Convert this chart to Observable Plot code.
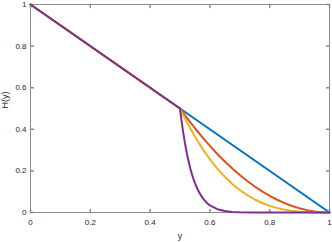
<!DOCTYPE html>
<html>
<head>
<meta charset="utf-8">
<script src="https://cdn.jsdelivr.net/npm/d3@7"></script>
<script src="https://cdn.jsdelivr.net/npm/@observablehq/plot@0.6"></script>
<style>
  html, body { margin: 0; padding: 0; background: #fff; }
  #chart svg { display: block; }
</style>
</head>
<body>
<div id="chart"></div>
<script>
// Tick values
const xTicks = [0, 0.2, 0.4, 0.6, 0.8, 1];
const yTicks = [0, 0.2, 0.4, 0.6, 0.8, 1];
const xTickLabels = ["0", "0.2", "0.4", "0.6", "0.8", "1"];
const yTickLabels = ["0", "0.2", "0.4", "0.6", "0.8", "1"];

// Series
const blueX = [0, 0.5, 1];
const blueY = [1, 0.5, 0];

const redX = [0, 0.5, 0.525, 0.55, 0.575, 0.6, 0.625, 0.65, 0.675, 0.7, 0.725, 0.75, 0.775, 0.8, 0.825, 0.85, 0.875, 0.9, 0.925, 0.95, 0.975, 1];
const redY = [1, 0.5, 0.4513, 0.405, 0.3613, 0.32, 0.2813, 0.245, 0.2113, 0.18, 0.1513, 0.125, 0.1013, 0.08, 0.0613, 0.045, 0.0313, 0.02, 0.0113, 0.005, 0.0013, 0];

const yellowX = [0, 0.5, 0.525, 0.55, 0.575, 0.6, 0.625, 0.65, 0.675, 0.7, 0.725, 0.75, 0.775, 0.8, 0.825, 0.85, 0.875, 0.9, 0.925, 0.95, 0.975, 1];
const yellowY = [1, 0.5, 0.4287, 0.3645, 0.3071, 0.256, 0.2109, 0.1715, 0.1373, 0.108, 0.0832, 0.0625, 0.0456, 0.032, 0.0214, 0.0135, 0.0078, 0.004, 0.0017, 0.0005, 0.0001, 0];

const purpleX = [0, 0.5, 0.505, 0.51, 0.515, 0.52, 0.525, 0.53, 0.535, 0.54, 0.545, 0.55, 0.56, 0.57, 0.58, 0.59, 0.6, 0.625, 0.65, 0.675, 0.7, 0.75, 0.8, 0.9, 1];
const purpleY = [1, 0.5, 0.443, 0.392, 0.347, 0.306, 0.270, 0.238, 0.209, 0.184, 0.161, 0.141, 0.108, 0.082, 0.062, 0.046, 0.034, 0.016, 0.007, 0.0028, 0.0011, 0.0001, 0, 0, 0];

const seriesNames = ["blue", "red", "yellow", "purple"];
const seriesColors = ["#0072BD", "#D95319", "#EDB120", "#7E2F8E"];

const toRows = (xs, ys) => xs.map((x, i) => ({x, y: ys[i]}));
const series = [
  toRows(blueX, blueY),
  toRows(redX, redY),
  toRows(yellowX, yellowY),
  toRows(purpleX, purpleY)
];

const font = "'Liberation Sans', Arial, Helvetica, sans-serif";
const axisColor = "#8c8c8c";
const textColor = "#262626";

const tickShape = { draw(context, l) { context.moveTo(0, 0); context.lineTo(0, -l); } };
const tickLen = 3;

const marks = [
  Plot.frame({stroke: axisColor, strokeWidth: 1}),
  // inward ticks
  Plot.vector(xTicks, {x: d => d, frameAnchor: "bottom", length: tickLen, rotate: 0, anchor: "start", shape: tickShape, stroke: axisColor}),
  Plot.vector(xTicks, {x: d => d, frameAnchor: "top", length: tickLen, rotate: 180, anchor: "start", shape: tickShape, stroke: axisColor}),
  Plot.vector(yTicks, {y: d => d, frameAnchor: "left", length: tickLen, rotate: 90, anchor: "start", shape: tickShape, stroke: axisColor}),
  Plot.vector(yTicks, {y: d => d, frameAnchor: "right", length: tickLen, rotate: -90, anchor: "start", shape: tickShape, stroke: axisColor}),
  // tick labels
  Plot.axisX(xTicks, {tickSize: 0, tickPadding: 7, tickFormat: (d, i) => xTickLabels[i], fill: textColor, label: null}),
  Plot.axisY(yTicks, {tickSize: 0, tickPadding: 4, tickFormat: (d, i) => yTickLabels[i], fill: textColor, label: null}),
  // axis titles
  Plot.text(["y"], {frameAnchor: "bottom", dy: 24, lineAnchor: "middle", fill: textColor, fontSize: 9}),
  Plot.text(["H(y)"], {frameAnchor: "left", dx: -25, rotate: -90, fill: textColor, fontSize: 9}),
  // lines
  ...series.map((rows, i) => Plot.line(rows, {x: "x", y: "y", stroke: seriesColors[i], strokeWidth: 2, curve: "linear"}))
];

const chart = Plot.plot({
  width: 332,
  height: 242,
  marginLeft: 30,
  marginRight: 3,
  marginTop: 4,
  marginBottom: 30,
  style: {fontFamily: font, fontSize: "8px", background: "#fff", overflow: "visible"},
  x: {domain: [0, 1], axis: null},
  y: {domain: [0, 1], axis: null},
  marks
});
document.getElementById("chart").appendChild(chart);
</script>
</body>
</html>
